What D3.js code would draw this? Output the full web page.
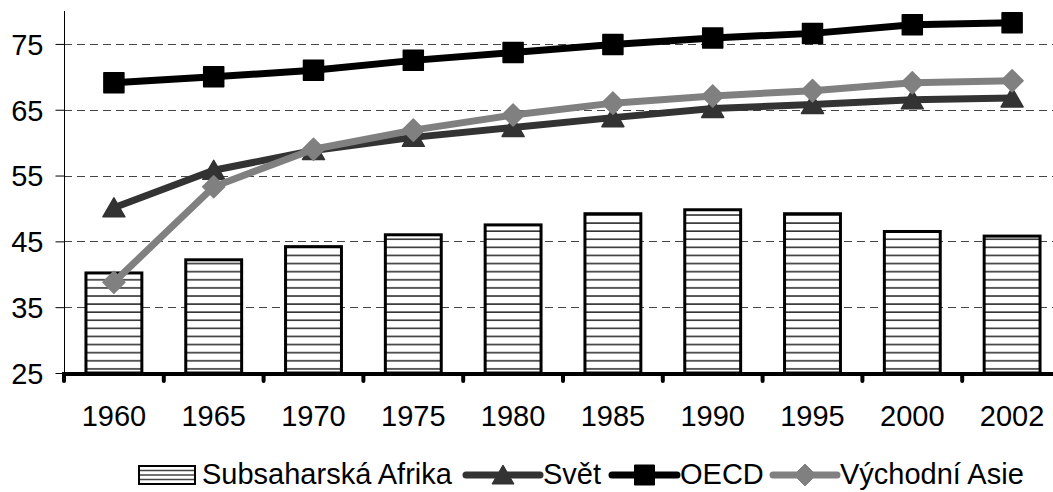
<!DOCTYPE html>
<html>
<head>
<meta charset="utf-8">
<script src="https://cdn.jsdelivr.net/npm/d3@7"></script>
<style>
  body { margin: 0; background: #fff; }
  text { font-family: "Liberation Sans", Arial, sans-serif; fill: #000; }
</style>
</head>
<body>
<svg id="chart" width="1053" height="492"></svg>
<script>
const years = ['1960', '1965', '1970', '1975', '1980', '1985', '1990', '1995', '2000', '2002'];
const africa = [40.2, 42.2, 44.2, 46.0, 47.5, 49.2, 49.8, 49.2, 46.5, 45.8];
const world = [50.1, 55.8, 58.8, 60.8, 62.3, 63.8, 65.2, 65.8, 66.5, 66.8];
const oecd = [69.1, 70.0, 71.0, 72.5, 73.7, 74.9, 75.9, 76.6, 77.9, 78.2];
const eastAsia = [38.8, 53.3, 59.0, 61.9, 64.2, 66.0, 67.1, 67.9, 69.1, 69.4];
const yTicks = [25, 35, 45, 55, 65, 75];

const fontSize = '29px';
const svg = d3.select('#chart');

const x = d3.scaleBand().domain(years).range([64, 1062]).padding(0);
const y = d3.scaleLinear().domain([25, 80]).range([373, 11]);

const barW = x.bandwidth() * 0.56;

// hatch pattern for the bars
const defs = svg.append('defs');
const pat = defs.append('pattern')
    .attr('id', 'hatch')
    .attr('patternUnits', 'userSpaceOnUse')
    .attr('x', 0).attr('y', 373 % 8.1 + 3)
    .attr('width', 20).attr('height', 8.1);
pat.append('rect').attr('width', 20).attr('height', 8.1).attr('fill', '#fff');
pat.append('line')
    .attr('x1', 0).attr('x2', 20).attr('y1', 1).attr('y2', 1)
    .attr('stroke', '#333').attr('stroke-width', 1.6);

// dashed grid
svg.append('g')
    .selectAll('line')
    .data(yTicks.slice(1))
    .enter().append('line')
    .attr('x1', 64).attr('x2', 1053)
    .attr('y1', d => Math.round(y(d)) + 0.5)
    .attr('y2', d => Math.round(y(d)) + 0.5)
    .attr('stroke', '#444')
    .attr('stroke-width', 1)
    .attr('stroke-dasharray', '8,5');

// y axis
const yAxis = svg.append('g')
    .attr('transform', 'translate(64.5,0)')
    .call(d3.axisLeft(y).tickValues(yTicks).tickSize(9).tickPadding(12).tickFormat(d3.format('d')));
yAxis.select('.domain').attr('d', 'M0,' + y(80) + 'V' + y(25)).attr('stroke', '#000');
yAxis.selectAll('.tick line').attr('stroke', '#000');
yAxis.selectAll('.tick text')
    .style('font-size', fontSize)
    .attr('dy', '0.36em');

// bars
svg.append('g')
    .selectAll('rect')
    .data(africa)
    .enter().append('rect')
    .attr('x', (d, i) => x(years[i]) + (x.bandwidth() - barW) / 2)
    .attr('y', d => y(d))
    .attr('width', barW)
    .attr('height', d => y(25) - y(d))
    .attr('fill', 'url(#hatch)')
    .attr('stroke', '#000')
    .attr('stroke-width', 3);

// x axis
const xAxisG = svg.append('g');
xAxisG.append('line')
    .attr('x1', 62).attr('x2', 1053)
    .attr('y1', y(25) + 1).attr('y2', y(25) + 1)
    .attr('stroke', '#000').attr('stroke-width', 4);
xAxisG.selectAll('.xtick')
    .data(years)
    .enter().append('line')
    .attr('class', 'xtick')
    .attr('x1', d => x(d)).attr('x2', d => x(d))
    .attr('y1', y(25) + 2).attr('y2', y(25) + 8)
    .attr('stroke', '#000').attr('stroke-width', 4)
    .attr('stroke-linecap', 'round');
xAxisG.selectAll('.xlabel')
    .data(years)
    .enter().append('text')
    .attr('class', 'xlabel')
    .attr('x', d => x(d) + x.bandwidth() / 2)
    .attr('y', 426)
    .attr('text-anchor', 'middle')
    .style('font-size', fontSize)
    .text(d => d);

// markers
const markers = {
    triangle: 'M0,-10L11,9L-11,9Z',
    square: 'M-10,-10H10V10H-10Z',
    diamond: 'M0,-11L11,0L0,11L-11,0Z'
};

const seriesList = [
    { name: 'Svět', values: world, color: '#333', marker: 'triangle' },
    { name: 'OECD', values: oecd, color: '#000', marker: 'square' },
    { name: 'Východní Asie', values: eastAsia, color: '#808080', marker: 'diamond' }
];

const line = d3.line()
    .x((d, i) => x(years[i]) + x.bandwidth() / 2)
    .y(d => y(d));

seriesList.forEach(s => {
    const g = svg.append('g');
    g.append('path')
        .attr('d', line(s.values))
        .attr('fill', 'none')
        .attr('stroke', s.color)
        .attr('stroke-width', 7)
        .attr('stroke-linejoin', 'round');
    g.selectAll('.m')
        .data(s.values)
        .enter().append('path')
        .attr('class', 'm')
        .attr('transform', (d, i) => 'translate(' + (x(years[i]) + x.bandwidth() / 2) + ',' + y(d) + ')')
        .attr('d', markers[s.marker])
        .attr('fill', s.color)
        .attr('stroke', s.color)
        .attr('stroke-width', 1.5)
        .attr('stroke-linejoin', 'round');
});

// legend
const legY = 475;
const leg = svg.append('g');
leg.append('rect')
    .attr('x', 139).attr('y', legY - 9)
    .attr('width', 56).attr('height', 18)
    .attr('fill', '#fff').attr('stroke', '#000').attr('stroke-width', 2);
[legY - 4.5, legY, legY + 4.5].forEach(ly => {
    leg.append('line')
        .attr('x1', 140).attr('x2', 194)
        .attr('y1', ly).attr('y2', ly)
        .attr('stroke', '#444').attr('stroke-width', 1.4);
});
leg.append('text')
    .attr('x', 202).attr('y', legY + 9)
    .style('font-size', fontSize)
    .text('Subsaharská Afrika');

const legItems = [
    { s: seriesList[0], x1: 466, x2: 540, tx: 543 },
    { s: seriesList[1], x1: 612, x2: 677, tx: 680 },
    { s: seriesList[2], x1: 773, x2: 837, tx: 840 }
];
legItems.forEach(it => {
    leg.append('line')
        .attr('x1', it.x1).attr('x2', it.x2)
        .attr('y1', legY).attr('y2', legY)
        .attr('stroke', it.s.color).attr('stroke-width', 7)
        .attr('stroke-linecap', 'round');
    leg.append('path')
        .attr('transform', 'translate(' + (it.x1 + it.x2) / 2 + ',' + legY + ')')
        .attr('d', markers[it.s.marker])
        .attr('fill', it.s.color)
        .attr('stroke', it.s.color);
    leg.append('text')
        .attr('x', it.tx).attr('y', legY + 9)
        .style('font-size', fontSize)
        .text(it.s.name);
});
</script>
</body>
</html>
